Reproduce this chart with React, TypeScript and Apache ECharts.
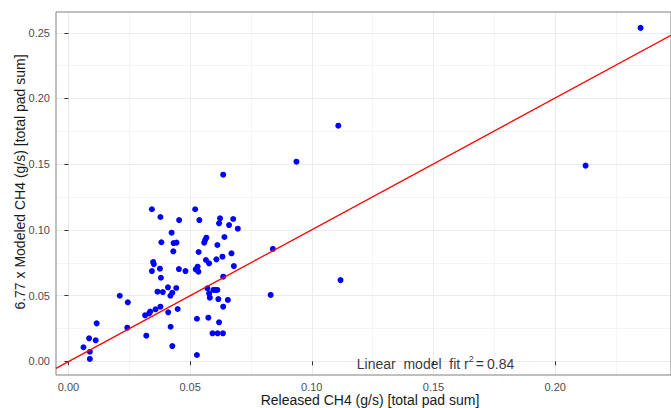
import React, { useEffect, useRef } from "react";
import * as echarts from "echarts";

// Released CH4 (g/s) [total pad sum]
const releasedX = [
  0.0062, 0.0085, 0.0088, 0.0088, 0.0112, 0.0116, 0.0211, 0.0244, 0.0242, 0.032,
  0.0315, 0.0332, 0.0336, 0.0343, 0.0343, 0.0348, 0.0351, 0.0358, 0.0366, 0.0376,
  0.038, 0.0378, 0.0378, 0.0382, 0.0388, 0.0409, 0.041, 0.0419, 0.0427, 0.042,
  0.0427, 0.0424, 0.0431, 0.0432, 0.0444, 0.0443, 0.0449, 0.0454, 0.0455, 0.0481,
  0.0521, 0.0523, 0.0528, 0.0528, 0.0531, 0.0534, 0.0535, 0.0538, 0.0565, 0.0558,
  0.0562, 0.0567, 0.0571, 0.0578, 0.0581, 0.0575, 0.0578, 0.0592, 0.0596, 0.0605,
  0.0608, 0.0612, 0.0613, 0.0612, 0.0616, 0.0619, 0.0619, 0.0623, 0.0633, 0.0636,
  0.0636, 0.0635, 0.0636, 0.0641, 0.0655, 0.066, 0.067, 0.0677, 0.068, 0.0696,
  0.084, 0.0831, 0.0937, 0.1109, 0.1118, 0.2125, 0.2351,
];
// 6.77 x Modeled CH4 (g/s) [total pad sum]
const modeledY = [
  0.0107, 0.0175, 0.0073, 0.0018, 0.016, 0.0289, 0.0499, 0.0449, 0.0256, 0.0195,
  0.035, 0.0365, 0.0378, 0.1157, 0.0687, 0.0756, 0.074, 0.0396, 0.053, 0.0705,
  0.0636, 0.0416, 0.1098, 0.0906, 0.0527, 0.0563, 0.0373, 0.0499, 0.0522, 0.0263,
  0.0116, 0.0979, 0.0837, 0.09, 0.0903, 0.0558, 0.0398, 0.0702, 0.1075, 0.0687,
  0.1157, 0.07, 0.0324, 0.0048, 0.072, 0.0682, 0.0832, 0.1075, 0.0771, 0.0903,
  0.0923, 0.0941, 0.0556, 0.0517, 0.0484, 0.0332, 0.0746, 0.0213, 0.0543, 0.0543,
  0.0776, 0.0885, 0.0213, 0.0543, 0.0474, 0.0297, 0.105, 0.1088, 0.0796, 0.0644,
  0.0416, 0.0213, 0.142, 0.0946, 0.0467, 0.1037, 0.0822, 0.1083, 0.0725, 0.1009,
  0.0855, 0.0505, 0.1519, 0.1793, 0.0618, 0.1489, 0.2537,
];

// fitted line y = intercept + slope * x
const fitIntercept = -0.0002;
const fitSlope = 1.003;
const fitR2 = "0.84";

const xTickValues = [0, 0.05, 0.1, 0.15, 0.2];
const yTickValues = [0, 0.05, 0.1, 0.15, 0.2, 0.25];
const xMinorValues = [0.025, 0.075, 0.125, 0.175, 0.225];
const yMinorValues = [0.025, 0.075, 0.125, 0.175, 0.225];

const annotationPos = [0.15, 0];

const xTitle = "Released CH4 (g/s) [total pad sum]";
const yTitle = "6.77 x Modeled CH4 (g/s) [total pad sum]";

const X_MIN = -0.0051;
const X_MAX = 0.2476;
const Y_MIN = -0.0104;
const Y_MAX = 0.2658;

const FONT = "'Liberation Sans', Arial, Helvetica, sans-serif";

export default function App() {
  const ref = useRef<HTMLDivElement>(null);

  useEffect(() => {
    if (!ref.current) return;
    const chart = echarts.init(ref.current, null, { renderer: "svg" });

    const points = releasedX.map((x, i) => [x, modeledY[i]]);
    const fitLine = [
      [X_MIN, fitIntercept + fitSlope * X_MIN],
      [X_MAX, fitIntercept + fitSlope * X_MAX],
    ];

    const majorAxis = (ticks: number[], min: number, max: number) => ({
      type: "value",
      min,
      max,
      minInterval: 0.05,
      maxInterval: 0.05,
      z: 1,
      axisLine: { show: false },
      axisTick: {
        show: true,
        length: 4,
        customValues: ticks,
        lineStyle: { color: "#333333", width: 1 },
      },
      axisLabel: {
        show: true,
        customValues: ticks,
        formatter: (v: number) => v.toFixed(2),
        color: "#4d4d4d",
        fontSize: 11,
        fontFamily: FONT,
        margin: 6,
      },
      splitLine: { show: true, lineStyle: { color: "#ebebeb", width: 1 } },
    });

    const minorAxis = (ticks: number[], min: number, max: number) => ({
      type: "value",
      min,
      max,
      minInterval: 0.025,
      maxInterval: 0.025,
      z: 0,
      axisLine: { show: false },
      axisTick: { show: false, customValues: ticks },
      axisLabel: { show: false },
      splitLine: { show: true, lineStyle: { color: "#f4f4f4", width: 1 } },
    });

    chart.setOption({
      animation: false,
      backgroundColor: "#ffffff",
      grid: {
        left: 56,
        top: 12,
        width: 624,
        height: 363,
        show: true,
        z: 3,
        backgroundColor: "transparent",
        borderColor: "#808080",
        borderWidth: 1,
      },
      xAxis: [
        majorAxis(xTickValues, X_MIN, X_MAX),
        minorAxis(xMinorValues, X_MIN, X_MAX),
      ],
      yAxis: [
        majorAxis(yTickValues, Y_MIN, Y_MAX),
        minorAxis(yMinorValues, Y_MIN, Y_MAX),
      ],
      graphic: [
        {
          type: "text",
          x: 370,
          y: 399.5,
          style: {
            text: xTitle,
            fontSize: 14,
            fontFamily: FONT,
            fill: "#1a1a1a",
            align: "center",
            verticalAlign: "middle",
          },
        },
        {
          type: "text",
          x: 20,
          y: 182,
          rotation: Math.PI / 2,
          style: {
            text: yTitle,
            fontSize: 14,
            fontFamily: FONT,
            fill: "#1a1a1a",
            align: "center",
            verticalAlign: "middle",
          },
        },
      ],
      series: [
        {
          type: "scatter",
          xAxisIndex: 0,
          yAxisIndex: 0,
          data: points,
          symbol: "circle",
          symbolSize: 6,
          itemStyle: { color: "#0000ff", opacity: 1 },
          silent: true,
          z: 2,
        },
        {
          type: "line",
          xAxisIndex: 0,
          yAxisIndex: 0,
          data: fitLine,
          symbol: "none",
          lineStyle: { color: "#ff0000", width: 1.3 },
          silent: true,
          z: 3,
        },
        {
          type: "scatter",
          xAxisIndex: 0,
          yAxisIndex: 0,
          data: [annotationPos],
          symbolSize: 0,
          silent: true,
          z: 4,
          label: {
            show: true,
            position: "inside",
            offset: [2, 2],
            formatter: "{a|Linear  model  fit r}{s|2}{b|=}{a|0.84}".replace("0.84", fitR2),
            rich: {
              a: { fontSize: 14, fontFamily: FONT, color: "#000000", verticalAlign: "bottom", lineHeight: 16 },
              s: { fontSize: 9, fontFamily: FONT, color: "#000000", verticalAlign: "bottom", lineHeight: 16, padding: [0, 0, 8, 0] },
              b: { fontSize: 14, fontFamily: FONT, color: "#000000", verticalAlign: "bottom", lineHeight: 16, padding: [0, 3, 0, 2] },
            },
          },
        },
      ],
    });

    return () => chart.dispose();
  }, []);

  return (
    <div
      ref={ref}
      style={{ position: "fixed", left: 0, top: 0, width: 671, height: 408, background: "#fff" }}
    />
  );
}
